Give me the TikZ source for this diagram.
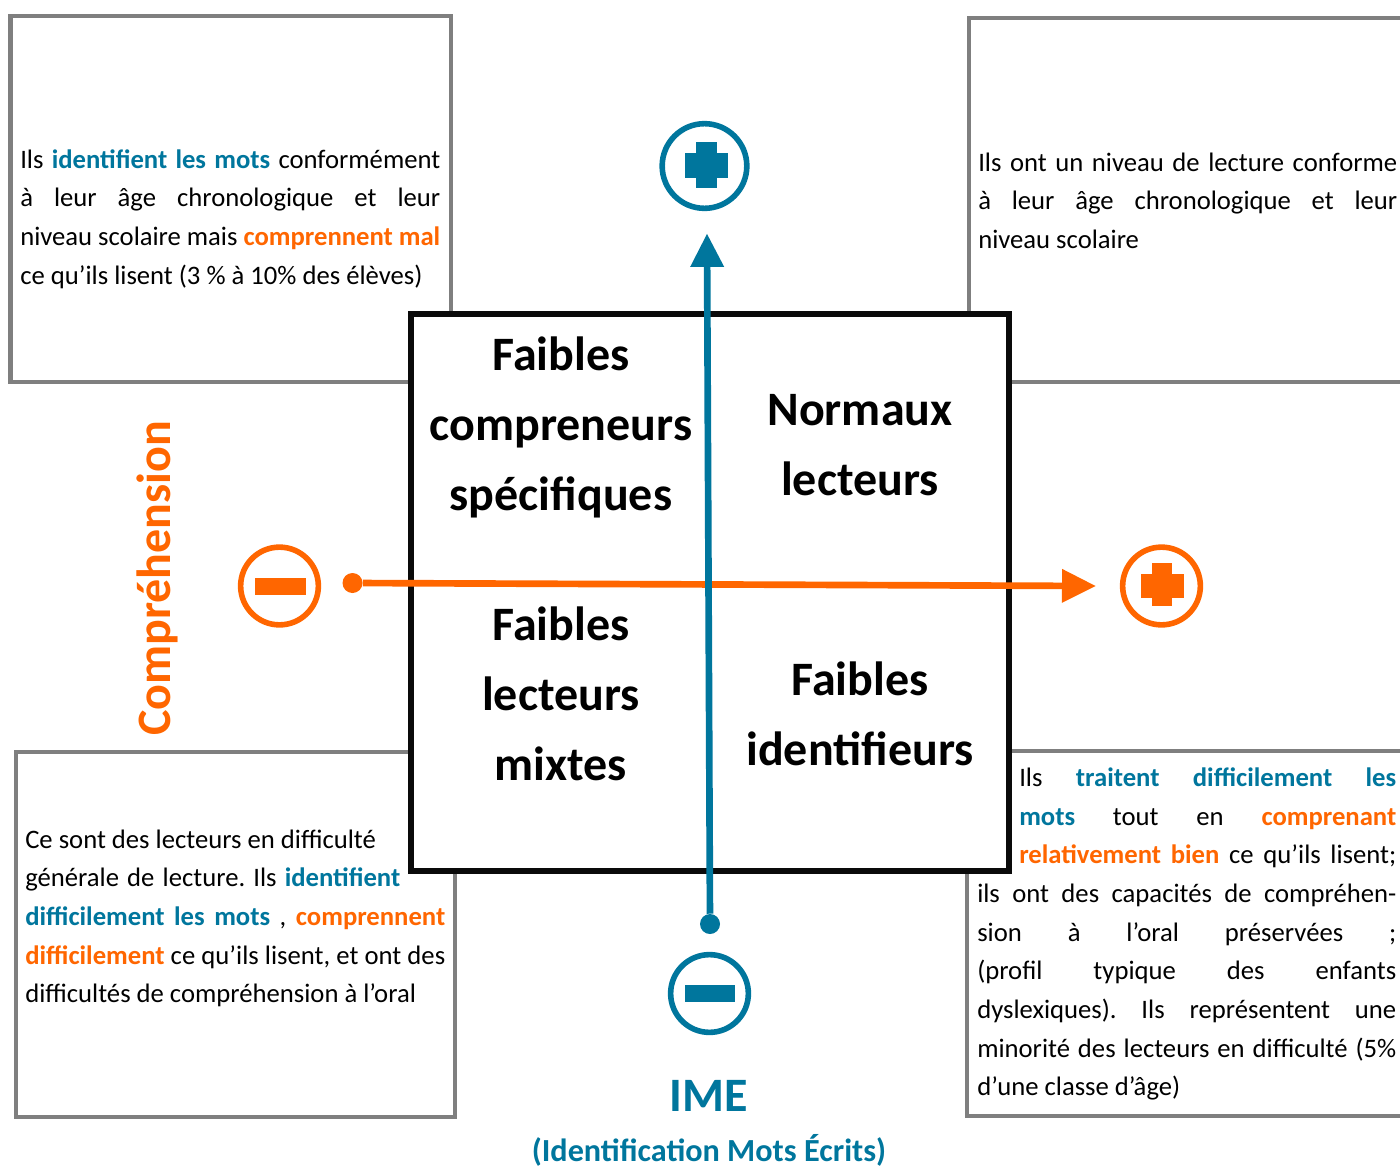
\documentclass[tikz,border=0pt]{standalone}
\usepackage{fontspec}
\setmainfont{Carlito}
\usetikzlibrary{arrows.meta}
\definecolor{imeblue}{RGB}{0,118,157}
\definecolor{comporange}{RGB}{255,102,0}
\definecolor{boxgray}{RGB}{127,127,127}
\definecolor{gridblack}{RGB}{10,10,10}
\frenchspacing
\newcommand{\bl}[1]{\textcolor{imeblue}{\textbf{#1}}}
\newcommand{\og}[1]{\textcolor{comporange}{\textbf{#1}}}
\newcommand{\jl}[2]{\hbox to #1\dimexpr.75pt\relax{#2}}
\newcommand{\jr}[2]{\moveright #1\dimexpr.75pt\relax\hbox to \dimexpr 419\dimexpr.75pt\relax-#1\dimexpr.75pt\relax\relax{#2}}
\newcommand{\cl}[1]{\hbox to 330pt{\hfil #1\hfil}}
\tikzset{
  infobox/.style={draw=boxgray,line width=3.4pt,fill=white},
  gridbox/.style={draw=gridblack,line width=3.9pt,fill=white},
  bodytext/.style={inner sep=0pt,anchor=base west,font=\fontsize{20pt}{29pt}\selectfont},
  headtext/.style={inner sep=0pt,anchor=base,font=\fontsize{36pt}{52.5pt}\selectfont\bfseries},
  ring/.style={circle,draw=#1,line width=4.2pt,fill=white,inner sep=0pt,minimum size=58.3pt},
  dotend/.style={circle,fill=#1,inner sep=0pt,minimum size=15pt},
  bluearrow/.style={draw=imeblue,line width=5pt,-{Triangle[length=25pt,width=24pt]}},
  orangearrow/.style={draw=comporange,line width=5pt,-{Triangle[length=25.5pt,width=24pt]}},
}
\begin{document}
\begin{tikzpicture}[x=.75pt,y=-.75pt]
\useasboundingbox (0,0) rectangle (1400,1167);
% outer boxes
\draw[infobox] (10.5,16) rectangle (451,382);
\draw[infobox] (969,18) rectangle (1430,382);
\draw[infobox] (16,752) rectangle (455,1117);
\draw[infobox] (967,751) rectangle (1430,1116);
% texts
\node[bodytext] (tl) at (20,168) {\vtop{\baselineskip=29pt
  \jl{420}{Ils \bl{identifient} \bl{les} \bl{mots} conformément}
  \jl{420}{à leur âge chronologique et leur}
  \jl{420}{niveau scolaire mais \og{comprennent} \og{mal}}
  \hbox{ce qu’ils lisent (3 \% à 10\% des élèves)}}};
\node[bodytext] (tr) at (978,171) {\vtop{\baselineskip=29pt
  \jl{419}{Ils ont un niveau de lecture conforme}
  \jl{419}{à leur âge chronologique et leur}
  \hbox{niveau scolaire}}};
\node[bodytext] (bl) at (25,848) {\vtop{\baselineskip=29pt
  \hbox{Ce sont des lecteurs en difficulté}
  \jl{375}{générale de lecture. Ils \bl{identifient}}
  \jl{420}{\bl{difficilement} \bl{les} \bl{mots} , \og{comprennent}}
  \jl{420}{\og{difficilement} ce qu’ils lisent, et ont des}
  \hbox{difficultés de compréhension à l’oral}}};
\node[bodytext] (br) at (977,786.5) {\vtop{\baselineskip=29pt
  \jr{42}{Ils \bl{traitent} \bl{difficilement} \bl{les}}
  \jr{42}{\bl{mots} tout en \og{comprenant}}
  \jr{42}{\og{relativement} \og{bien} ce qu’ils lisent;}
  \jl{419}{ils ont des capacités de compréhen-}
  \jl{419}{sion à l’oral préservées ;}
  \jl{419}{(profil typique des enfants}
  \jl{419}{dyslexiques). Ils représentent une}
  \jl{419}{minorité des lecteurs en difficulté (5\%}
  \hbox{d’une classe d’âge)}}};
% central grid
\draw[gridbox] (411,314) rectangle (1009,871);
\node[headtext] (q1) at (561,370) {\vtop{\baselineskip=52.5pt\cl{Faibles}\cl{compreneurs}\cl{spécifiques}}};
\node[headtext] (q2) at (860,425) {\vtop{\baselineskip=52.5pt\cl{Normaux}\cl{lecteurs}}};
\node[headtext] (q3) at (561,640) {\vtop{\baselineskip=52.5pt\cl{Faibles}\cl{lecteurs}\cl{mixtes}}};
\node[headtext] (q4) at (860,695) {\vtop{\baselineskip=52.5pt\cl{Faibles}\cl{identifieurs}}};
% axes
\node[dotend=comporange] (odot) at (352.5,583) {};
\coordinate (otip) at (1096,586);
\draw[orangearrow] (odot) -- (otip);
\node[dotend=imeblue] (bdot) at (710,924) {};
\coordinate (btip) at (707,233.5);
\draw[bluearrow] (bdot) -- (btip);
% rings
\node[ring=imeblue,minimum size=63.5pt] (bplus) at (704.5,166) {};
\fill[imeblue] (696,142) rectangle (717,188);
\fill[imeblue] (685,153) rectangle (728,178);
\node[ring=imeblue] (bminus) at (709.5,993.5) {};
\fill[imeblue] (684.5,985) rectangle (735,1002);
\node[ring=comporange] (ominus) at (279.5,586) {};
\fill[comporange] (255,578) rectangle (305.5,595);
\node[ring=comporange] (oplus) at (1161.5,586) {};
\fill[comporange] (1152,563) rectangle (1172,606);
\fill[comporange] (1141,574) rectangle (1184,598);
% axis titles
\node[inner sep=0pt,rotate=90,anchor=base,text=comporange,font=\fontsize{36pt}{36pt}\selectfont\bfseries] (comp) at (170,578.5) {Compréhension};
\node[inner sep=0pt,anchor=base,text=imeblue,font=\fontsize{36pt}{36pt}\selectfont\bfseries] (ime) at (709,1111) {IME};
\node[inner sep=0pt,anchor=base,text=imeblue,font=\fontsize{24.15pt}{26pt}\selectfont\bfseries] (imesub) at (709,1161) {(Identification Mots Écrits)};
\end{tikzpicture}
\end{document}
